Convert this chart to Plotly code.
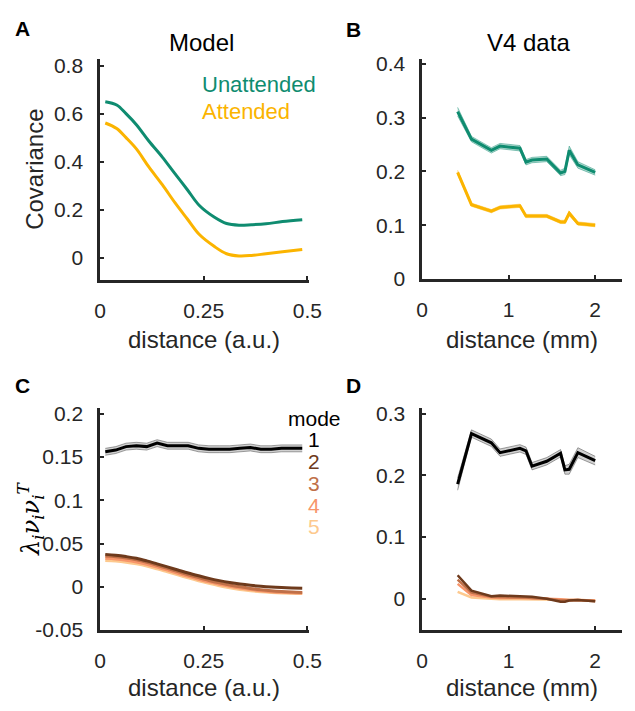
import plotly.graph_objects as go

# ---------------- data ----------------
# Panel A (model covariance vs distance)
a_x = [0.0125, 0.04, 0.0625, 0.0875, 0.1175, 0.15, 0.18, 0.21, 0.24, 0.275, 0.305, 0.335, 0.365, 0.40, 0.44, 0.4875]
a_unattended = [0.650, 0.636, 0.600, 0.554, 0.486, 0.419, 0.351, 0.284, 0.216, 0.169, 0.142, 0.135, 0.137, 0.141, 0.150, 0.158]
a_attended = [0.561, 0.538, 0.500, 0.453, 0.378, 0.304, 0.230, 0.162, 0.095, 0.047, 0.016, 0.007, 0.009, 0.016, 0.024, 0.034]

# Panel B (V4 data)
b_x = [0.41, 0.57, 0.80, 0.90, 1.13, 1.20, 1.27, 1.44, 1.60, 1.65, 1.70, 1.80, 2.00]
b_unattended = [0.311, 0.260, 0.239, 0.247, 0.243, 0.217, 0.221, 0.223, 0.197, 0.200, 0.239, 0.212, 0.198]
b_unattended_sem = [0.008, 0.005, 0.005, 0.005, 0.005, 0.005, 0.005, 0.005, 0.005, 0.006, 0.008, 0.006, 0.005]
b_attended = [0.198, 0.138, 0.126, 0.133, 0.136, 0.117, 0.117, 0.117, 0.106, 0.106, 0.122, 0.103, 0.100]
b_attended_sem = [0.004, 0.003, 0.003, 0.003, 0.003, 0.003, 0.003, 0.003, 0.003, 0.003, 0.004, 0.003, 0.003]

# Panel C (model modes)
c_x = [0.0125, 0.0375, 0.0625, 0.0875, 0.1125, 0.1375, 0.1625, 0.1875, 0.2125, 0.2375,
       0.2625, 0.2875, 0.3125, 0.3375, 0.3625, 0.3875, 0.4125, 0.4375, 0.4625, 0.4875]
c_mode1 = [0.156, 0.158, 0.162, 0.163, 0.162, 0.166, 0.163, 0.163, 0.163, 0.160,
           0.159, 0.159, 0.159, 0.160, 0.161, 0.159, 0.159, 0.160, 0.160, 0.160]
c_mode1_sem = [0.004, 0.004, 0.004, 0.004, 0.004, 0.004, 0.004, 0.004, 0.004, 0.004,
               0.004, 0.004, 0.004, 0.004, 0.004, 0.004, 0.004, 0.004, 0.004, 0.004]
c_mode2 = [0.0375, 0.0365, 0.0350, 0.0330, 0.0300, 0.0265, 0.0230, 0.0195, 0.0160, 0.0128,
           0.0098, 0.0072, 0.0050, 0.0032, 0.0018, 0.0007, -0.0002, -0.0008, -0.0012, -0.0015]
c_mode3 = [0.0355, 0.0347, 0.0333, 0.0312, 0.0283, 0.0249, 0.0213, 0.0176, 0.0140, 0.0106,
           0.0074, 0.0046, 0.0021, 0.0000, -0.0018, -0.0033, -0.0045, -0.0054, -0.0060, -0.0064]
c_mode4 = [0.0330, 0.0322, 0.0308, 0.0288, 0.0261, 0.0228, 0.0193, 0.0157, 0.0121, 0.0088,
           0.0057, 0.0030, 0.0006, -0.0015, -0.0032, -0.0046, -0.0056, -0.0064, -0.0069, -0.0072]
c_mode5 = [0.0305, 0.0298, 0.0285, 0.0265, 0.0240, 0.0208, 0.0173, 0.0138, 0.0103, 0.0070,
           0.0040, 0.0013, -0.0010, -0.0030, -0.0045, -0.0057, -0.0065, -0.0071, -0.0074, -0.0076]

# Panel D (V4 modes)
d_x = [0.41, 0.57, 0.80, 0.90, 1.13, 1.20, 1.27, 1.44, 1.60, 1.65, 1.70, 1.80, 2.00]
d_mode1 = [0.186, 0.268, 0.253, 0.237, 0.244, 0.240, 0.215, 0.223, 0.236, 0.209, 0.210, 0.237, 0.224]
d_mode1_sem = [0.010, 0.006, 0.006, 0.006, 0.006, 0.006, 0.006, 0.006, 0.006, 0.007, 0.008, 0.008, 0.007]
d_mode2 = [0.038, 0.013, 0.004, 0.005, 0.004, 0.004, 0.003, 0.000, -0.005, -0.005, -0.003, -0.002, -0.004]
d_mode3 = [0.031, 0.010, 0.003, 0.003, 0.002, 0.002, 0.001, 0.000, -0.003, -0.003, -0.002, -0.002, -0.004]
d_mode4 = [0.024, 0.006, 0.002, 0.001, 0.001, 0.001, 0.000, 0.000, -0.001, -0.002, -0.002, -0.002, -0.003]
d_mode5 = [0.011, 0.002, 0.000, -0.001, -0.001, -0.001, -0.001, -0.001, -0.002, -0.002, -0.002, -0.002, -0.003]

mode_labels = ["1", "2", "3", "4", "5"]
xticks_model = [0, 0.25, 0.5]
xticks_data = [0, 1, 2]

# ---------------- styles ----------------
TEAL = "#0f8c70"
GOLD = "#fbb400"
MODE_COLORS = ["#000000", "#6e3a1c", "#c07048", "#f7956a", "#fdc98e"]
AX = "#262626"
FONT = "Liberation Sans, Arial, sans-serif"
W, H = 635, 711

fig = go.Figure()


def px(x):
    return x / W


def py(y):
    return 1 - y / H


def band(xref, yref, x, y, sem, fill, edge):
    up = [v + s for v, s in zip(y, sem)]
    lo = [v - s for v, s in zip(y, sem)]
    fig.add_trace(go.Scatter(x=x, y=lo, xaxis=xref, yaxis=yref, mode="lines",
                             line=dict(color=edge, width=1), hoverinfo="skip", showlegend=False))
    fig.add_trace(go.Scatter(x=x, y=up, xaxis=xref, yaxis=yref, mode="lines", fill="tonexty",
                             fillcolor=fill, line=dict(color=edge, width=1), hoverinfo="skip",
                             showlegend=False))


def line(xref, yref, x, y, color, width=3, shape="linear"):
    fig.add_trace(go.Scatter(x=x, y=y, xaxis=xref, yaxis=yref, mode="lines",
                             line=dict(color=color, width=width, shape=shape),
                             showlegend=False))


# Panel A
line("x", "y", a_x, a_unattended, TEAL, shape="spline")
line("x", "y", a_x, a_attended, GOLD, shape="spline")

# Panel B
band("x2", "y2", b_x, b_unattended, b_unattended_sem, "rgba(15,140,112,0.30)", "rgba(15,140,112,0.45)")
line("x2", "y2", b_x, b_unattended, TEAL)
band("x2", "y2", b_x, b_attended, b_attended_sem, "rgba(251,180,0,0.30)", "rgba(251,180,0,0.45)")
line("x2", "y2", b_x, b_attended, GOLD)

# Panel C
for vals, col in zip([c_mode5, c_mode4, c_mode3, c_mode2], MODE_COLORS[:0:-1]):
    line("x3", "y3", c_x, vals, col, shape="spline")
band("x3", "y3", c_x, c_mode1, c_mode1_sem, "rgba(0,0,0,0.18)", "rgba(0,0,0,0.35)")
line("x3", "y3", c_x, c_mode1, MODE_COLORS[0])

# Panel D
for vals, col in zip([d_mode5, d_mode4, d_mode3, d_mode2], MODE_COLORS[:0:-1]):
    line("x4", "y4", d_x, vals, col, width=2.5)
band("x4", "y4", d_x, d_mode1, d_mode1_sem, "rgba(0,0,0,0.18)", "rgba(0,0,0,0.35)")
line("x4", "y4", d_x, d_mode1, MODE_COLORS[0])

axis_common = dict(showline=True, linecolor=AX, linewidth=2.5, ticks="inside", ticklen=4,
                   tickwidth=2, tickcolor=AX, showgrid=False, zeroline=False,
                   tickfont=dict(family=FONT, size=21, color=AX), ticklabelstandoff=10)

dom_ax_model = [px(97), px(312)]
dom_ax_data = [px(429), 1.0]
dom_top = [py(280), py(53.3)]
dom_bot = [py(639.3), py(411.7)]

fig.update_layout(
    autosize=True, margin=dict(l=0, r=0, t=0, b=0),
    paper_bgcolor="white", plot_bgcolor="white", showlegend=False,
    xaxis=dict(domain=dom_ax_model, range=[0, 0.503], tickvals=xticks_model,
               ticktext=["0", "0.25", "0.5"], anchor="y", **axis_common),
    yaxis=dict(domain=dom_top, range=[-0.093, 0.828], tickvals=[0, 0.2, 0.4, 0.6, 0.8],
               ticktext=["0", "0.2", "0.4", "0.6", "0.8"], anchor="x", **axis_common),
    xaxis2=dict(domain=dom_ax_data, range=[0, 2.31], tickvals=xticks_data,
                ticktext=["0", "1", "2"], anchor="y2", **axis_common),
    yaxis2=dict(domain=[py(279), py(53.3)], range=[0, 0.409], tickvals=[0, 0.1, 0.2, 0.3, 0.4],
                ticktext=["0", "0.1", "0.2", "0.3", "0.4"], anchor="x2", **axis_common),
    xaxis3=dict(domain=dom_ax_model, range=[0, 0.503], tickvals=xticks_model,
                ticktext=["0", "0.25", "0.5"], anchor="y3", **axis_common),
    yaxis3=dict(domain=dom_bot, range=[-0.05, 0.2063], tickvals=[-0.05, 0, 0.05, 0.1, 0.15, 0.2],
                ticktext=["-0.05", "0", "0.05", "0.1", "0.15", "0.2"], anchor="x3", **axis_common),
    xaxis4=dict(domain=dom_ax_data, range=[0, 2.31], tickvals=xticks_data,
                ticktext=["0", "1", "2"], anchor="y4", **axis_common),
    yaxis4=dict(domain=dom_bot, range=[-0.051, 0.309], tickvals=[0, 0.1, 0.2, 0.3],
                ticktext=["0", "0.1", "0.2", "0.3"], anchor="x4", **axis_common),
)


def text(x, y, s, size=24, color=AX, xanchor="center", textangle=0, family=FONT):
    fig.add_annotation(x=px(x), y=py(y), xref="paper", yref="paper", text=s, showarrow=False,
                       xanchor=xanchor, yanchor="middle", textangle=textangle,
                       font=dict(family=family, size=size, color=color))


# panel letters
for lab, (lx, ly) in zip(["A", "B", "C", "D"], [(17, 22), (358, 23), (17, 388), (358, 388)]):
    text(lx, ly, "<b>" + lab + "</b>", size=21, color="black")

# titles
text(202, 36, "Model", size=24, color="black")
text(539, 36, "V4 data", size=24, color="black")

# axis labels
text(204, 341, "distance (a.u.)")
text(532, 341, "distance (mm)")
text(204, 698, "distance (a.u.)")
text(532, 698, "distance (mm)")
text(30, 167, "Covariance", textangle=-90)
text(25, 525, "<i>λ<sub>i</sub>ν<sub>i</sub>ν<sub>i</sub><sup>T</sup></i>", size=24, color="black",
     textangle=-90, family="DejaVu Serif, serif")

# legend in A
text(200, 79, "Unattended", size=22, color=TEAL, xanchor="left")
text(200, 107, "Attended", size=22, color=GOLD, xanchor="left")

# legend in C
text(347, 422, "mode", size=21, color="black", xanchor="right")
for i, (lab, col) in enumerate(zip(mode_labels, MODE_COLORS)):
    text(318, 443.5 + 22.5 * i, lab, size=21, color=col)

# the page body has an 8px default margin; the div style cancels it so the
# figure sits at the top-left corner of the 635x711 window
fig.write_html(
    "out.html",
    config={"displayModeBar": False},
    default_width=f"{W}px; margin:-8px",
    default_height=f"{H}px",
)
